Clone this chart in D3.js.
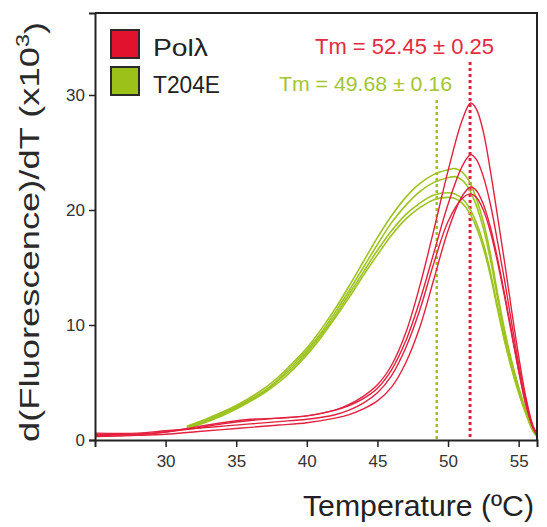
<!DOCTYPE html>
<html>
<head>
<meta charset="utf-8">
<script src="https://cdn.jsdelivr.net/npm/d3@7"></script>
<style>
  body { margin: 0; background: #fff; }
  text { font-family: "Liberation Sans", Arial, sans-serif; }
</style>
</head>
<body>
<svg id="plot1" width="547" height="527"></svg>
<script>
// melt curves, first derivative of fluorescence (x10^3) vs temperature
var redTemps = [25,28,30,32,34,36,38,40,42,43,44,45,46,47,48,49,50,51,51.6,52,52.5,53,53.5,54,54.5,55,55.5,56,56.3];
var polRuns = [
    [0.4,0.5,0.7,1.0,1.4,1.7,1.9,2.1,2.6,3.1,3.8,4.8,6.5,9.3,13.4,18.3,23.4,27.8,29.3,28.8,26.8,23.4,19.5,15.5,11.3,7.3,3.8,1.3,0.5],
    [0.5,0.5,0.7,1.1,1.5,1.8,1.9,2.1,2.6,3.0,3.6,4.5,6.1,8.6,12.1,16.3,20.5,23.8,24.8,24.4,22.9,20.5,17.3,13.9,10.2,6.6,3.5,1.2,0.5],
    [0.3,0.4,0.5,0.7,0.9,1.1,1.3,1.5,1.9,2.2,2.7,3.4,4.6,6.7,9.8,14.0,18.2,21.2,22.0,21.7,20.5,18.5,15.8,12.7,9.4,6.1,3.2,1.1,0.4],
    [0.6,0.6,0.8,1.0,1.2,1.4,1.6,1.8,2.2,2.6,3.2,4.1,5.6,8.0,11.3,15.4,19.0,21.0,21.4,21.1,20.0,18.1,15.5,12.5,9.2,6.0,3.1,1.1,0.4]
];

var greenTemps = [31.5,33,35,37,38,39,40,41,42,43,44,45,46,47,48,49,50,50.5,51,51.5,52,52.5,53,53.5,54,54.5,55,55.5,56,56.3];
var mutRuns = [
    [1.2,1.9,3.0,4.5,5.5,6.7,8.0,9.6,11.4,13.4,15.5,17.6,19.5,21.1,22.3,23.1,23.5,23.6,23.3,22.5,21.0,19.0,16.2,12.8,9.6,6.9,4.6,2.6,0.9,0.3],
    [1.1,1.8,2.9,4.3,5.3,6.5,7.8,9.3,11.1,13.0,15.0,17.0,18.9,20.4,21.6,22.4,22.8,22.9,22.6,21.8,20.4,18.4,15.7,12.4,9.3,6.7,4.5,2.5,0.9,0.3],
    [1.0,1.7,2.8,4.2,5.2,6.3,7.6,9.1,10.8,12.7,14.6,16.5,18.2,19.6,20.6,21.3,21.5,21.4,21.0,20.2,18.9,17.1,14.6,11.6,8.8,6.3,4.2,2.4,0.9,0.3],
    [1.0,1.6,2.7,4.1,5.0,6.1,7.4,8.9,10.6,12.4,14.3,16.1,17.8,19.2,20.2,20.9,21.1,21.0,20.6,19.8,18.5,16.7,14.3,11.4,8.6,6.2,4.1,2.3,0.8,0.3]
];

var xTicks = [30,35,40,45,50,55];
var yTicks = [0,10,20,30];
var legendNames = ["Pol\u03bb", "T204E"];
var tmLabels = ["Tm = 52.45 \u00b1 0.25", "Tm = 49.68 \u00b1 0.16"];
var tmPositions = [51.56, 49.2];   // where the dotted lines sit on the axis

var redColor = "#e3213f",
    greenColor = "#9dc320";

var svg = d3.select("#plot1"),
    margin = {top: 13, right: 10, bottom: 87, left: 95},
    width = +svg.attr("width") - margin.left - margin.right,
    height = +svg.attr("height") - margin.top - margin.bottom;

var x = d3.scaleLinear().domain([25, 56.3]).range([0, width]),
    y = d3.scaleLinear().domain([0, 37.13]).range([height, 0]);

var g = svg.append("g")
    .attr("transform", "translate(" + margin.left + "," + margin.top + ")");

g.append("clipPath").attr("id", "clip")
    .append("rect").attr("width", width).attr("height", height);

var line = d3.line()
    .x(function(d){ return x(d[0]); })
    .y(function(d){ return y(d[1]); })
    .curve(d3.curveCatmullRom.alpha(0.5));

// pair temps with each run
function toPoints(temps, vals){
    return temps.map(function(t, i){ return [t, vals[i]]; });
}

var plotArea = g.append("g").attr("clip-path", "url(#clip)");

// dotted Tm markers
plotArea.selectAll(".tm")
    .data(tmPositions)
    .enter()
    .append("line")
    .attr("x1", function(d){ return x(d); })
    .attr("x2", function(d){ return x(d); })
    .attr("y1", function(d,i){ return i == 0 ? 49 : 87; })
    .attr("y2", height)
    .attr("stroke", function(d,i){ return i == 0 ? redColor : greenColor; })
    .attr("stroke-width", function(d,i){ return i == 0 ? 3 : 2.5; })
    .attr("stroke-dasharray", "3,3");

plotArea.selectAll(".mut")
    .data(mutRuns)
    .enter()
    .append("path")
    .attr("d", function(d){ return line(toPoints(greenTemps, d)); })
    .attr("fill", "none")
    .attr("stroke", greenColor)
    .attr("stroke-width", 1.6);

plotArea.selectAll(".pol")
    .data(polRuns)
    .enter()
    .append("path")
    .attr("d", function(d){ return line(toPoints(redTemps, d)); })
    .attr("fill", "none")
    .attr("stroke", redColor)
    .attr("stroke-width", 1.4);

// axes
var xAxis = g.append("g")
    .attr("transform", "translate(0," + height + ")")
    .call(d3.axisBottom(x).tickValues(xTicks).tickSize(7).tickPadding(8));

var yAxis = g.append("g")
    .call(d3.axisLeft(y).tickValues(yTicks).tickSize(6).tickPadding(4));

[xAxis, yAxis].forEach(function(a){
    a.select(".domain").attr("stroke", "#222").attr("stroke-width", 2);
    a.selectAll(".tick line").attr("stroke", "#222").attr("stroke-width", 1.5);
    a.selectAll(".tick text").attr("fill", "#333").style("font-size", "17px")
        .style("font-family", "'Liberation Sans', Arial, sans-serif");
});

// top and right edges of the box
g.append("path")
    .attr("d", "M0,0H" + width + "V" + height)
    .attr("fill", "none")
    .attr("stroke", "#222")
    .attr("stroke-width", 2);

// legend
var legend = g.selectAll(".legend")
    .data(legendNames)
    .enter()
    .append("g")
    .attr("transform", function(d,i){ return "translate(16," + (17 + i*37) + ")"; });

legend.append("rect")
    .attr("width", 28)
    .attr("height", 28)
    .attr("fill", function(d,i){ return i == 0 ? "#e0122e" : "#9cc21a"; })
    .attr("stroke", "#2a2a2a")
    .attr("stroke-width", 2);

legend.append("text")
    .attr("x", 42)
    .attr("y", 26)
    .attr("fill", "#222")
    .style("font-size", "24px")
    .attr("textLength", function(d,i){ return i == 0 ? 55 : 67; })
    .attr("lengthAdjust", "spacingAndGlyphs")
    .text(function(d){ return d; });

// Tm annotations
g.selectAll(".tmLabel")
    .data(tmLabels)
    .enter()
    .append("text")
    .attr("x", function(d,i){ return i == 0 ? 399 : 357; })
    .attr("y", function(d,i){ return i == 0 ? 41 : 78; })
    .attr("text-anchor", "end")
    .attr("fill", function(d,i){ return i == 0 ? "#e42a3e" : "#a2c532"; })
    .style("font-size", function(d,i){ return i == 0 ? "22px" : "21px"; })
    .attr("textLength", function(d,i){ return i == 0 ? 179 : 173; })
    .attr("lengthAdjust", "spacingAndGlyphs")
    .text(function(d){ return d; });

// axis titles
svg.append("text")
    .attr("x", 534)
    .attr("y", 516)
    .attr("text-anchor", "end")
    .attr("fill", "#222")
    .style("font-size", "30px")
    .attr("textLength", 231)
    .attr("lengthAdjust", "spacingAndGlyphs")
    .text("Temperature (\u00baC)");

var yTitle = svg.append("text")
    .attr("transform", "translate(29,232) rotate(-90)")
    .attr("text-anchor", "middle")
    .attr("dy", "0.35em")
    .attr("fill", "#2a2a2a")
    .style("font-size", "28px")
    .attr("textLength", 420)
    .attr("lengthAdjust", "spacingAndGlyphs");
yTitle.append("tspan").text("d(Fluorescence)/dT (x10");
yTitle.append("tspan").attr("dy", "-0.55em").style("font-size", "18px").text("3");
yTitle.append("tspan").attr("dy", "0.55em").text(")");
</script>
</body>
</html>
